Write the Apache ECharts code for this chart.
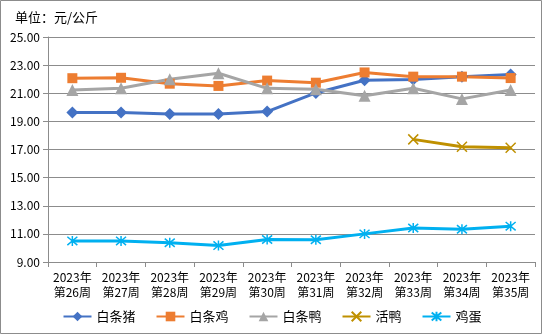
<!DOCTYPE html>
<html><head><meta charset="utf-8">
<script src="https://cdn.jsdelivr.net/npm/echarts@6/dist/echarts.min.js"></script>
<style>html,body{margin:0;padding:0;background:#fff}#c{width:544px;height:336px}</style>
</head><body><div id="c"></div>
<script>
const categories = ['2023年\n第26周','2023年\n第27周','2023年\n第28周','2023年\n第29周','2023年\n第30周','2023年\n第31周','2023年\n第32周','2023年\n第33周','2023年\n第34周','2023年\n第35周'];
const pork = [19.63, 19.63, 19.52, 19.52, 19.70, 21.02, 21.92, 21.98, 22.18, 22.33];
const chicken = [22.07, 22.10, 21.68, 21.52, 21.90, 21.75, 22.48, 22.18, 22.18, 22.08];
const duck = [21.23, 21.35, 22.00, 22.42, 21.35, 21.28, 20.82, 21.35, 20.60, 21.23];
const liveDuck = [null, null, null, null, null, null, null, 17.72, 17.20, 17.12];
const eggs = [10.50, 10.50, 10.37, 10.17, 10.60, 10.58, 11.00, 11.42, 11.33, 11.55];
const yTicks = {min: 9, max: 25, interval: 2};

const chart = echarts.init(document.getElementById('c'));
const font = '"Noto Sans CJK SC", sans-serif';
function mk(name, data, color, symbol, size, extra) {
  return Object.assign({
    name, type: 'line', data, symbol, symbolSize: size,
    lineStyle: {color, width: 3},
    itemStyle: {color},
    connectNulls: false,
    animation: false
  }, extra || {});
}
chart.setOption({
  animation: false,
  textStyle: {fontFamily: font},
  title: {text: '单位：元/公斤', left: 10, top: 6, textStyle: {fontSize: 13, fontWeight: 'normal', color: '#000', fontFamily: font}},
  grid: {left: 48, right: 9, top: 37, bottom: 74},
  graphic: [{type: 'rect', shape: {x: 0.5, y: 0.5, width: 541, height: 333}, style: {fill: 'none', stroke: '#8c8c8c', lineWidth: 1}, silent: true}],
  legend: {
    bottom: 8, left: 'center', itemWidth: 28, itemHeight: 12, itemGap: 20,
    textStyle: {fontSize: 13, color: '#000', fontFamily: font},
    data: ['白条猪','白条鸡','白条鸭','活鸭','鸡蛋']
  },
  xAxis: {
    type: 'category', data: categories, boundaryGap: true,
    axisLine: {lineStyle: {color: '#8c8c8c', width: 1}},
    axisTick: {show: true, length: 5, lineStyle: {color: '#8c8c8c'}},
    axisLabel: {color: '#000', fontSize: 12, lineHeight: 15, margin: 8, interval: 0, fontFamily: font}
  },
  yAxis: {
    type: 'value', min: yTicks.min, max: yTicks.max, interval: yTicks.interval,
    axisLine: {show: true, lineStyle: {color: '#8c8c8c', width: 1}},
    axisTick: {show: true, length: 5, lineStyle: {color: '#8c8c8c'}},
    splitLine: {lineStyle: {color: '#8c8c8c', width: 1}},
    axisLabel: {color: '#000', fontSize: 12, margin: 8, formatter: v => v.toFixed(2), fontFamily: font}
  },
  series: [
    mk('白条猪', pork, '#4472C4', 'diamond', 12),
    mk('白条鸡', chicken, '#ED7D31', 'rect', 10),
    mk('白条鸭', duck, '#A5A5A5', 'triangle', 12),
    mk('活鸭', liveDuck, '#BF9000', 'path://M0,0L10,10M10,0L0,10', 10, {itemStyle: {color: '#BF9000', borderColor: '#BF9000', borderWidth: 1.5}}),
    mk('鸡蛋', eggs, '#00B0F0', 'path://M0,0L10,10M10,0L0,10M5,-1L5,11', 10, {itemStyle: {color: '#00B0F0', borderColor: '#00B0F0', borderWidth: 1.5}})
  ]
});
</script></body></html>
